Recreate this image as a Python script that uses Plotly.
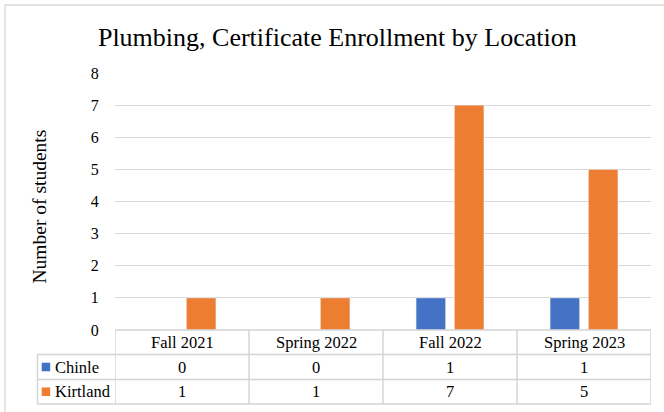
import plotly.graph_objects as go

categories = ["Fall 2021", "Spring 2022", "Fall 2022", "Spring 2023"]
chinle = [0, 0, 1, 1]
kirtland = [1, 1, 7, 5]
series_names = ["Chinle", "Kirtland"]
y_ticks = [0, 1, 2, 3, 4, 5, 6, 7, 8]

BLUE = "#4472C4"
ORANGE = "#ED7D31"
GRID = "#D9D9D9"
TABLE_LINE = "#D4D4D4"
FONT = "Liberation Serif"

W, H = 664, 412
L, R, T, B = 115, 13, 73, 82
PW = W - L - R
PH = H - T - B


def px_x(x):
    return (x - L) / PW


def px_y(y):
    return (H - B - y) / PH


fig = go.Figure()
fig.add_trace(go.Bar(x=categories, y=chinle, name=series_names[0], marker_color=BLUE))
fig.add_trace(go.Bar(x=categories, y=kirtland, name=series_names[1], marker_color=ORANGE))

shapes = []
annotations = []

# outer chart border (only top/left visible)
shapes.append(dict(type="rect", xref="paper", yref="paper",
                   x0=px_x(5), x1=px_x(700), y0=px_y(450), y1=px_y(5),
                   line=dict(color=GRID, width=1.3), layer="below"))

row_y = [330, 354.5, 379.5, 404]
left_edge = 37.5
# horizontal table lines
shapes.append(dict(type="line", xref="paper", yref="paper",
                   x0=0, x1=1, y0=px_y(row_y[0]), y1=px_y(row_y[0]),
                   line=dict(color=TABLE_LINE, width=1.5)))
for yy in row_y[1:]:
    shapes.append(dict(type="line", xref="paper", yref="paper",
                       x0=px_x(left_edge), x1=1, y0=px_y(yy), y1=px_y(yy),
                       line=dict(color=TABLE_LINE, width=1.5)))
# vertical table lines at category boundaries
for i in range(len(categories) + 1):
    shapes.append(dict(type="line", xref="x", yref="paper",
                       x0=i - 0.5, x1=i - 0.5, y0=px_y(row_y[0]), y1=px_y(row_y[-1]),
                       line=dict(color=TABLE_LINE, width=1.5)))
shapes.append(dict(type="line", xref="paper", yref="paper",
                   x0=px_x(left_edge), x1=px_x(left_edge), y0=px_y(row_y[1]), y1=px_y(row_y[-1]),
                   line=dict(color=TABLE_LINE, width=1.5)))

TF = dict(family=FONT, size=16.5, color="#000000")
centers = [(row_y[k] + row_y[k + 1]) / 2 for k in range(3)]
for i, cat in enumerate(categories):
    annotations.append(dict(x=cat, xref="x", y=px_y(centers[0]), yref="paper",
                            text=cat, showarrow=False, font=TF, yanchor="middle"))
    annotations.append(dict(x=cat, xref="x", y=px_y(centers[1]), yref="paper",
                            text=str(chinle[i]), showarrow=False, font=TF, yanchor="middle"))
    annotations.append(dict(x=cat, xref="x", y=px_y(centers[2]), yref="paper",
                            text=str(kirtland[i]), showarrow=False, font=TF, yanchor="middle"))

for k, (name, col) in enumerate(zip(series_names, [BLUE, ORANGE])):
    cy = centers[k + 1]
    shapes.append(dict(type="rect", xref="paper", yref="paper",
                       x0=px_x(41.7), x1=px_x(50.2), y0=px_y(cy + 4.3), y1=px_y(cy - 4.3),
                       fillcolor=col, line=dict(width=0)))
    annotations.append(dict(x=px_x(52.5), xref="paper", y=px_y(cy), yref="paper",
                            text=name, showarrow=False, font=TF,
                            xanchor="left", yanchor="middle"))

# y axis title
annotations.append(dict(x=px_x(39.5), xref="paper", y=px_y(207), yref="paper",
                        text="Number of students", textangle=-90, showarrow=False,
                        font=dict(family=FONT, size=19.5, color="#000000"),
                        xanchor="center", yanchor="middle"))

fig.update_layout(
    width=W, height=H,
    margin=dict(l=L, r=R, t=T, b=B, pad=0),
    paper_bgcolor="white", plot_bgcolor="white",
    title=dict(text="Plumbing, Certificate Enrollment by Location",
               x=0.508, xanchor="center", y=1 - 37 / H, yanchor="middle",
               font=dict(family=FONT, size=26, color="#000000")),
    showlegend=False,
    barmode="group", bargap=0.428, bargroupgap=0.23,
    xaxis=dict(showticklabels=False, showgrid=False, zeroline=False, showline=False,
               range=[-0.5, len(categories) - 0.5], fixedrange=True),
    yaxis=dict(range=[0, 8], tickvals=y_ticks, showgrid=True, gridcolor=GRID, gridwidth=1.3,
               zeroline=False, showline=False, ticks="outside", ticklen=12,
               tickcolor="rgba(0,0,0,0)",
               tickfont=dict(family=FONT, size=16, color="#000000")),
    shapes=shapes, annotations=annotations,
)

fig.write_html("out.html", config={"displayModeBar": False},
               post_script="document.body.style.margin='0';document.body.style.overflow='hidden';")
